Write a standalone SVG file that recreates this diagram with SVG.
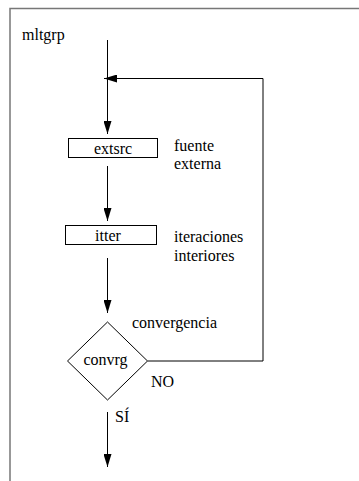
<svg xmlns="http://www.w3.org/2000/svg" width="359" height="481" viewBox="0 0 359 481">
<style>
text{font-family:"Liberation Serif","Times New Roman",serif;font-size:16px;fill:#000}
.box{fill:#fff;stroke:#000;stroke-width:1}
.ln{fill:none;stroke:#000;stroke-width:1}
.frame{fill:none;stroke:#777;stroke-width:1.5}
</style>
<defs>
<marker id="ah" viewBox="0 0 13 8" refX="13" refY="4" markerWidth="13" markerHeight="8" markerUnits="userSpaceOnUse" orient="auto">
<path d="M0,0 L13,4 L0,8 z" fill="#000"/>
</marker>
</defs>
<path class="frame" d="M359,8.5 H10 V481"/>
<text x="22" y="40">mltgrp</text>
<g id="connectors">
<line class="ln" x1="107.5" y1="40" x2="107.5" y2="134" marker-end="url(#ah)"/>
<path class="ln" d="M147.5,361 H263 V78.5 H104" marker-end="url(#ah)"/>
<line class="ln" x1="107.5" y1="166" x2="107.5" y2="221" marker-end="url(#ah)"/>
<line class="ln" x1="107.5" y1="258" x2="107.5" y2="313" marker-end="url(#ah)"/>
<line class="ln" x1="107.5" y1="412" x2="107.5" y2="467" marker-end="url(#ah)"/>
</g>
<g id="extsrc">
<rect class="box" x="68.5" y="138.5" width="89" height="19"/>
<text x="113" y="154" text-anchor="middle">extsrc</text>
<text x="174" y="151">fuente</text>
<text x="174" y="169">externa</text>
</g>
<g id="itter">
<rect class="box" x="65.5" y="225.5" width="91" height="19"/>
<text x="108" y="241" text-anchor="middle">itter</text>
<text x="174" y="242">iteraciones</text>
<text x="174" y="261">interiores</text>
</g>
<g id="convrg">
<path class="box" d="M107.5,322 L147.5,361 L107.5,400 L67.5,361 z"/>
<text x="105.5" y="365" text-anchor="middle">convrg</text>
<text x="132" y="328">convergencia</text>
<text x="151" y="387">NO</text>
<text x="115" y="422">SÍ</text>
</g>
</svg>
